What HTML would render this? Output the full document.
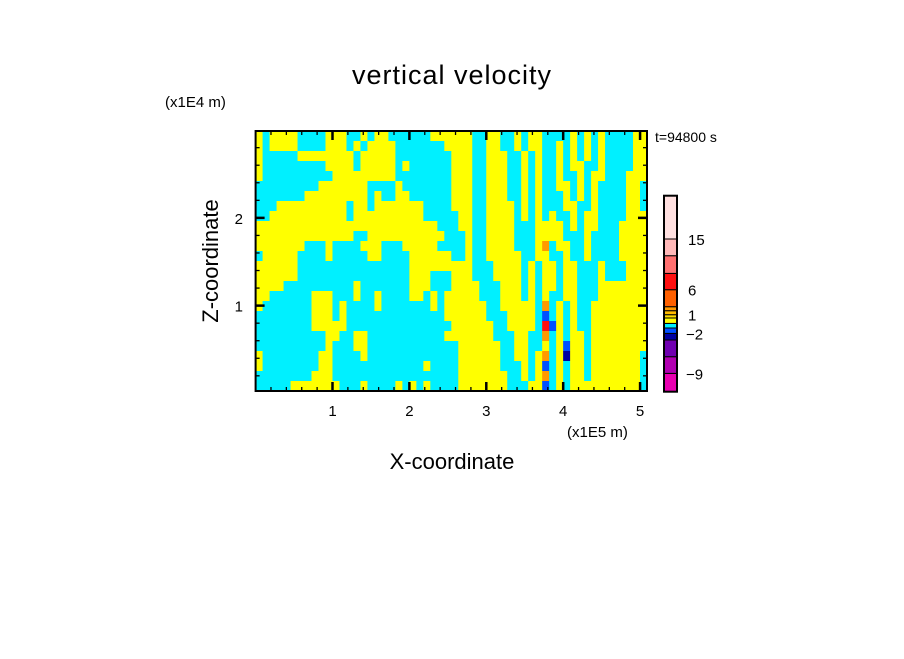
<!DOCTYPE html>
<html><head><meta charset="utf-8"><style>
html,body{margin:0;padding:0;background:#fff;}
svg text{font-family:"Liberation Sans",sans-serif;fill:#000;}
</style></head><body>
<svg id="chart" width="904" height="654" viewBox="0 0 904 654" xmlns="http://www.w3.org/2000/svg">
<rect width="904" height="654" fill="#fff"/>
<text x="452" y="84" font-size="27" text-anchor="middle" letter-spacing="1">vertical velocity</text>
<text x="165" y="107" font-size="15">(x1E4 m)</text>
<text x="655" y="142" font-size="14">t=94800 s</text>
<text x="567" y="437" font-size="15">(x1E5 m)</text>
<text x="452" y="469" font-size="22" text-anchor="middle">X-coordinate</text>
<text transform="translate(218,261) rotate(-90)" font-size="22" text-anchor="middle">Z-coordinate</text>
<g id="field"></g>
<g id="axes"></g>
<g id="cbar"></g>
</svg>
<script>
// ---- data ----
const xRange = [0, 5.09];
const zRange = [0.027, 2.99];
const xTickLabels = [1, 2, 3, 4, 5];
const zTickLabels = [1, 2];
const levelBounds = [-12, -9, -6, -3, -2, -1, 0, 0.5, 1, 2, 3, 6, 9, 12, 15, 20];
const levelColors = ["#e800b0","#b000b0","#7000b0","#0000a0","#0050ff","#00f0ff","#ffff00","#ffdd00","#ffbb00","#ff9900","#ff6000","#ff1010","#ff7070","#ffb8b8","#ffe0e0"];
const cbarLabels = [15, 6, 1, -2, -9];
const codeValues = {c: -0.5, y: 0.3, o: 2.5, b: -1.5, d: -2.5, r: 7};
// each row: left half (x 0-2.55) | right half (x 2.55-5.09), 28 cells each, top row = highest z
const fieldRows = [
"ycyyyyccccyyyccycyyccccccyyy|yyyccyyccycyyccccycycyccccyy",
"ycyyyyccccyyycycyyyycccccccy|yyyccyyccycyyccycycycyccccyy",
"ycccccyyyyyyyycyyyyycccccccc|yyyccyyyccycyccycycycyccccyy",
"ycccccccccyyyycyyyyycycccccc|yyyccyyyccycyccycyyccyccccyy",
"yccccccccccyyyyyyyyycccccccc|yyyccyyyccycyccyccycyycccyyy",
"cccccccccyyyyyyyccccyccccccc|yyyccyyyccycyccyycycyccccyyc",
"cccccccyyyyyyyyycyccyycccccc|yyyccyyyccycycccycycyccccyyc",
"cccyyyyyyyyyycyycyyyyyyycccc|yyyccyyyycycycccyyccyccccyyc",
"ccyyyyyyyyyyycyyyyyyyyyycccc|cyyccyyyycycycyccycyyccccyyy",
"yyyyyyyyyyyyyyyyyyyyyyyyyycc|cyyccyyyycccyyyycycyycccyyyy",
"yyyyyyyyyyyyyyccyyyyyyyyyyyc|ccyccyyyycccyyyycccyccccyyyy",
"yyyyyyycccyccccyyycccyyyyycc|ccyccyyyycccyocyyccyccccyyyy",
"cyyyyyccccycccccyyccccyyyyyy|ccyccyyyyyccyyccyccyccccyyyy",
"yyyyyyccccccccccccccccyyyyyy|yyycccyyyycycyycyycccycccyyy",
"yyyyyyccccccccccccccccyyyccc|yyycccyyyycycyycyycccycccyyy",
"yyyyccccccccccycccccccyyyccc|yyyycccyyycycyycyycccyyyyyyy",
"yyccccccyyycccyccyccccyycycy|yyyycccyyycycyccyycccyyyyyyy",
"ycccccccyyycyccccycccccccycy|yyyyyccyyyyycocycyccyyyyyyyy",
"ccccccccyyycyccccccccccccccy|yyyyycccyyyycbcycyccyyyyyyyy",
"ccccccccyyyyyccccccccccccccc|yyyyyyccyyyycrbycyccyyyyyyyy",
"ccccccccccyyccyycccccccccccy|yyyyyycccyyccocycyycyyyyyyyy",
"ccccccccccycccyycccccccccccc|cyyyyyyccyyccycybyycyyyyyyyy",
"yccccccccyyccccycccccccccccc|cyyyyyyccyycyocydyycyyyyyyyc",
"yccccccccyycccccccccccccyccc|cyyyyyycccycybcycyycyyyyyyyc",
"ccccccccyyyccccccccccccccccc|cyyyyyyyccycyocycyycyyyyyyyc",
"cccccyyyyyyycccyccccycycyccc|cyyyyyyycccyybcycyyyyyyyyyyc"
];
</script>
<script>
const NS = "http://www.w3.org/2000/svg";
const PX0 = 255.6, PX1 = 647, PY0 = 391, PY1 = 131;
function xs(v){ return PX0 + (v - xRange[0]) * (PX1 - PX0) / (xRange[1] - xRange[0]); }
function zs(v){ return PY0 - (v - zRange[0]) * (PY0 - PY1) / (zRange[1] - zRange[0]); }
function colorFor(v){
  for (let i = 0; i < levelColors.length; i++) if (v < levelBounds[i+1]) return levelColors[i];
  return levelColors[levelColors.length-1];
}
function mk(tag, attrs, parent){
  const el = document.createElementNS(NS, tag);
  for (const k in attrs) el.setAttribute(k, attrs[k]);
  parent.appendChild(el); return el;
}
const field = document.getElementById('field');
const nR = fieldRows.length, nC = 56;
const dx = (xRange[1]-xRange[0])/nC, dz = (zRange[1]-zRange[0])/nR;
for (let r = 0; r < nR; r++){
  const parts = fieldRows[r].split('|');
  const row = parts[0].padEnd(28,'c').slice(0,28) + (parts[1]||'').padEnd(28,'y').slice(0,28);
  const zTop = zRange[1] - r*dz, zBot = zTop - dz;
  for (let c = 0; c < nC; c++){
    const v = codeValues[row[c]] ?? -0.5;
    const x0 = xs(xRange[0]+c*dx), x1 = xs(xRange[0]+(c+1)*dx);
    const el = mk('rect', {x:x0.toFixed(2), y:zs(zTop).toFixed(2), width:(x1-x0+0.6).toFixed(2), height:(zs(zBot)-zs(zTop)+0.6).toFixed(2), fill:colorFor(v)}, field);
    
    
  }
}
// axes
const axes = document.getElementById('axes');
const frame = mk('rect', {x:PX0, y:PY1, width:PX1-PX0, height:PY0-PY1, fill:'none', stroke:'#000', 'stroke-width':2}, axes);


for (let v = 0.2; v < xRange[1]; v += 0.2){
  const major = Math.abs(v - Math.round(v)) < 1e-6;
  const L = major ? 9 : 4, x = xs(v);
  const t1 = mk('line', {x1:x, x2:x, y1:PY0, y2:PY0-L, stroke:'#000', 'stroke-width':major?2.5:1.3}, axes);
  
  
  const t2 = mk('line', {x1:x, x2:x, y1:PY1, y2:PY1+L, stroke:'#000', 'stroke-width':major?2.5:1.3}, axes);
  
  
}
for (let v = 0.2; v < zRange[1]; v += 0.2){
  const major = Math.abs(v - Math.round(v)) < 1e-6;
  const L = major ? 9 : 4, y = zs(v);
  const t1 = mk('line', {x1:PX0, x2:PX0+L, y1:y, y2:y, stroke:'#000', 'stroke-width':major?2.5:1.3}, axes);
  
  
  const t2 = mk('line', {x1:PX1, x2:PX1-L, y1:y, y2:y, stroke:'#000', 'stroke-width':major?2.5:1.3}, axes);
  
  
}
xTickLabels.forEach(v => {
  const t = mk('text', {x:xs(v), y:416, 'font-size':15, 'text-anchor':'middle'}, axes);
  t.textContent = v;
  
  
});
zTickLabels.forEach(v => {
  const t = mk('text', {x:243, y:zs(v)+6, 'font-size':15, 'text-anchor':'end'}, axes);
  t.textContent = v;
  
  
});
// colorbar
const cbar = document.getElementById('cbar');
const CB = {x:664, w:13, bottom:391.7};
const segHeights = [18.3,16.7,16.7,6.6,5.4,4.6,5.4,3.3,4,4,17,16.3,17.7,16.7,43.3];
let yb = CB.bottom;
const labelY = {};
levelColors.forEach((col, i) => {
  const h = segHeights[i];
  const s = mk('rect', {x:CB.x, y:yb-h, width:CB.w, height:h, fill:col, stroke:'#000', 'stroke-width':1}, cbar);
  
  
  labelY[levelBounds[i]] = yb;
  yb -= h;
  labelY[levelBounds[i+1]] = yb;
});
const cbFrame = mk('rect', {x:CB.x, y:yb, width:CB.w, height:CB.bottom-yb, fill:'none', stroke:'#000', 'stroke-width':2}, cbar);


cbarLabels.forEach(v => {
  const t = mk('text', {x:v < 0 ? 686 : 688, y:labelY[v]+6, 'font-size':15}, cbar);
  t.textContent = v < 0 ? '\u2212' + Math.abs(v) : v;
  
  
});
</script>
</body></html>
